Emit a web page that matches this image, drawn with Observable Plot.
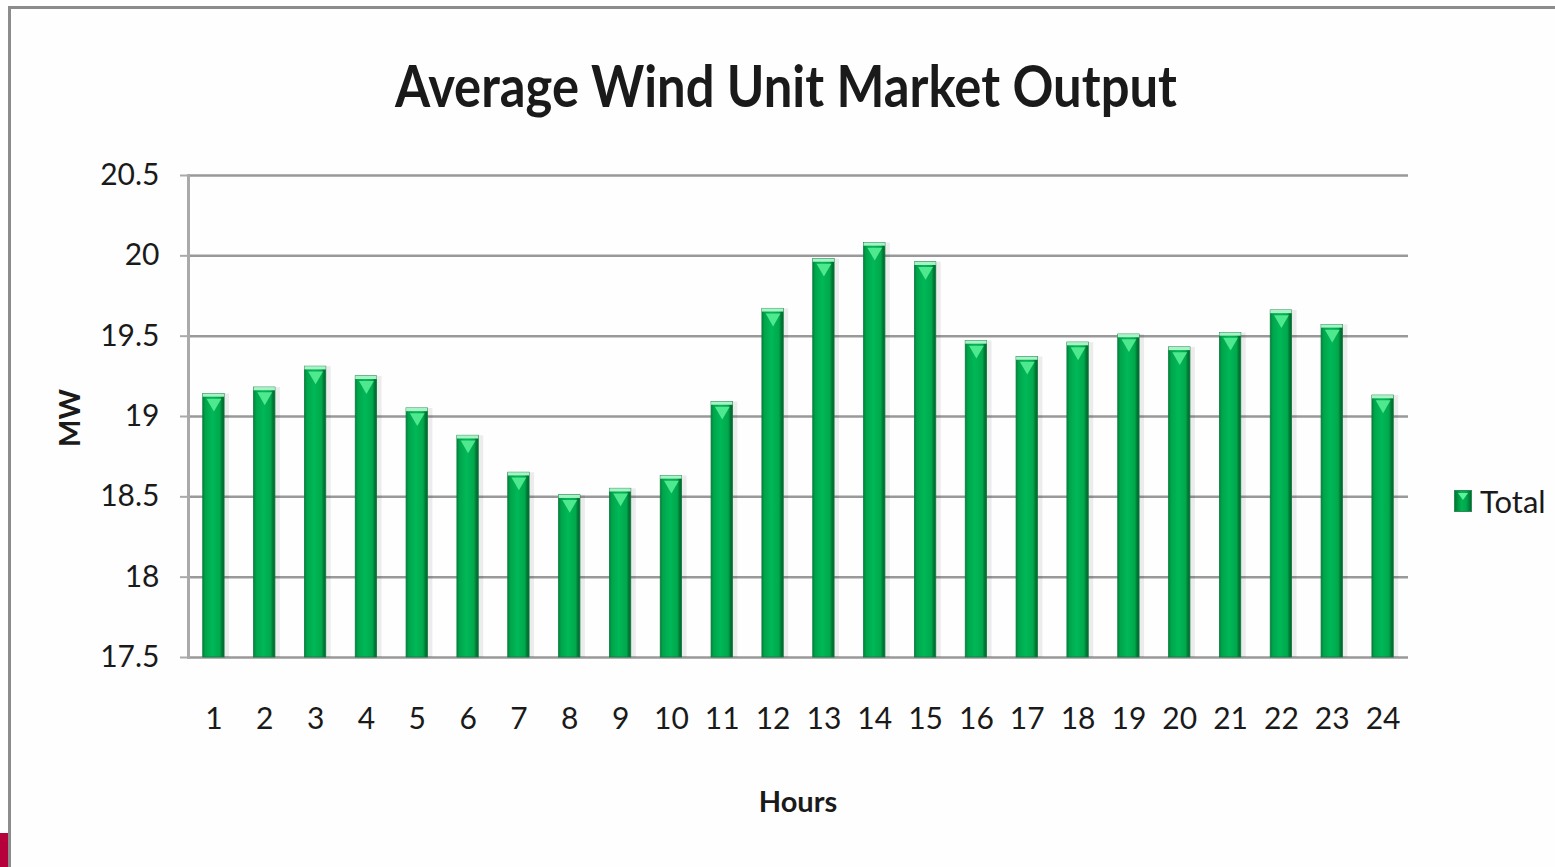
<!DOCTYPE html>
<html>
<head>
<meta charset="utf-8">
<script src="https://cdn.jsdelivr.net/npm/d3@7"></script>
<script src="https://cdn.jsdelivr.net/npm/@observablehq/plot@0.6"></script>
<style>
  html, body { margin: 0; padding: 0; background: #fff; overflow: hidden; }
  #page { position: relative; width: 1555px; height: 867px; overflow: hidden; background: #fefefe;
          font-family: Lato, "Open Sans", sans-serif; color: #1a1a1a; }
  #frame { position: absolute; left: 8px; top: 6px; width: 1700px; height: 1000px; border: 3px solid #8c8c8c; }
  #corner { position: absolute; left: 0; top: 833px; width: 8px; height: 34px; background: #b5003c; }
  #title { position: absolute; left: 786px; top: 84px; font-weight: bold; font-size: 58px; white-space: nowrap; transform-origin: center center; }
  #chart { position: absolute; left: 0; top: 150px; }
  #ylabel { position: absolute; left: 68px; top: 418px; transform: translate(-50%, -50%) rotate(-90deg); font-weight: bold; font-size: 29px; }
  #xlabel { position: absolute; left: 798px; top: 800px; transform: translate(-50%, -50%); font-weight: bold; font-size: 29px; }
  #legend { position: absolute; left: 1454px; top: 482px; display: flex; align-items: center; font-size: 31px; }
  #legend .sw { width: 18px; height: 22px; margin-right: 8px; border: 1px solid #2e8b57; box-sizing: border-box;
                background: linear-gradient(to right, #007a36, #00b452 40%, #00a84c 70%, #006d30); position: relative; }
  #legend .sw::after { content: ""; position: absolute; left: 3px; top: 2px; border-left: 5px solid transparent; border-right: 5px solid transparent; border-top: 7px solid #5df29a; }
</style>
</head>
<body>
<div id="page">
  <div id="frame"></div>
  <div id="corner"></div>
  <div id="title">Average Wind Unit Market Output</div>
  <div id="chart"></div>
  <div id="ylabel">MW</div>
  <div id="xlabel">Hours</div>
  <div id="legend"><div class="sw"></div><span>Total</span></div>
</div>
<script>
const hours = [1,2,3,4,5,6,7,8,9,10,11,12,13,14,15,16,17,18,19,20,21,22,23,24];
const totalMW = [19.14,19.18,19.31,19.25,19.05,18.88,18.65,18.51,18.55,18.63,19.09,19.67,19.98,20.08,19.96,19.47,19.37,19.46,19.51,19.43,19.52,19.66,19.57,19.13];
const yTicks = [17.5,18,18.5,19,19.5,20,20.5];
const yBase = 17.5;

const data = hours.map((h, i) => ({hour: h, value: totalMW[i]}));

const chart = Plot.plot({
  width: 1555,
  height: 717,
  marginTop: 25,
  marginBottom: 210,
  marginLeft: 188,
  marginRight: 147,
  style: {fontFamily: 'Lato, "Open Sans", sans-serif', fontSize: "30px", color: "#1a1a1a", background: "transparent"},
  x: {domain: hours, paddingInner: 0.58, paddingOuter: 0.29, round: false},
  y: {domain: [17.5, 20.5]},
  marks: [
    Plot.ruleY(yTicks, {stroke: "#999", strokeWidth: 2.5}),
    Plot.frame({anchor: "left", stroke: "#aaa", strokeWidth: 3}),
    Plot.axisY({ticks: yTicks, tickFormat: d => String(d), label: null, tickSize: 8, tickPadding: 21, stroke: "#aaa", strokeWidth: 2, fill: "#1a1a1a"}),
    Plot.axisX({label: null, tickSize: 0, tickPadding: 50, fill: "#1a1a1a"}),
    Plot.barY(data, {x: "hour", y1: yBase, y2: "value", fill: "#000", fillOpacity: 0.07, dx: 5}),
    Plot.barY(data, {x: "hour", y1: yBase, y2: "value", fill: "url(#barGrad)", stroke: "#0b7a3e", strokeWidth: 0.8}),
    Plot.barY(data, {x: "hour", y1: d => d.value - 0.02, y2: "value", fill: "#a8f2c6"}),
    Plot.dot(data, {x: "hour", y: "value", symbol: "triangle", rotate: 180, r: 5.5, dy: 9, fill: "#4ee88e", stroke: "none"})
  ]
});

const svg = d3.select(chart);
const defs = svg.insert("defs", ":first-child");
const g = defs.append("linearGradient").attr("id", "barGrad").attr("x1", "0").attr("x2", "1").attr("y1", "0").attr("y2", "0");
g.append("stop").attr("offset", "0").attr("stop-color", "#00843a");
g.append("stop").attr("offset", "0.12").attr("stop-color", "#00a54b");
g.append("stop").attr("offset", "0.45").attr("stop-color", "#00b857");
g.append("stop").attr("offset", "0.8").attr("stop-color", "#00a84c");
g.append("stop").attr("offset", "0.9").attr("stop-color", "#007a35");
g.append("stop").attr("offset", "1").attr("stop-color", "#00682c");

document.getElementById("chart").appendChild(chart);

// fit the title to the reference width
const t = document.getElementById("title");
const w = t.getBoundingClientRect().width;
t.style.transform = `translate(-50%, -50%) scaleX(${782 / w})`;
</script>
</body>
</html>
